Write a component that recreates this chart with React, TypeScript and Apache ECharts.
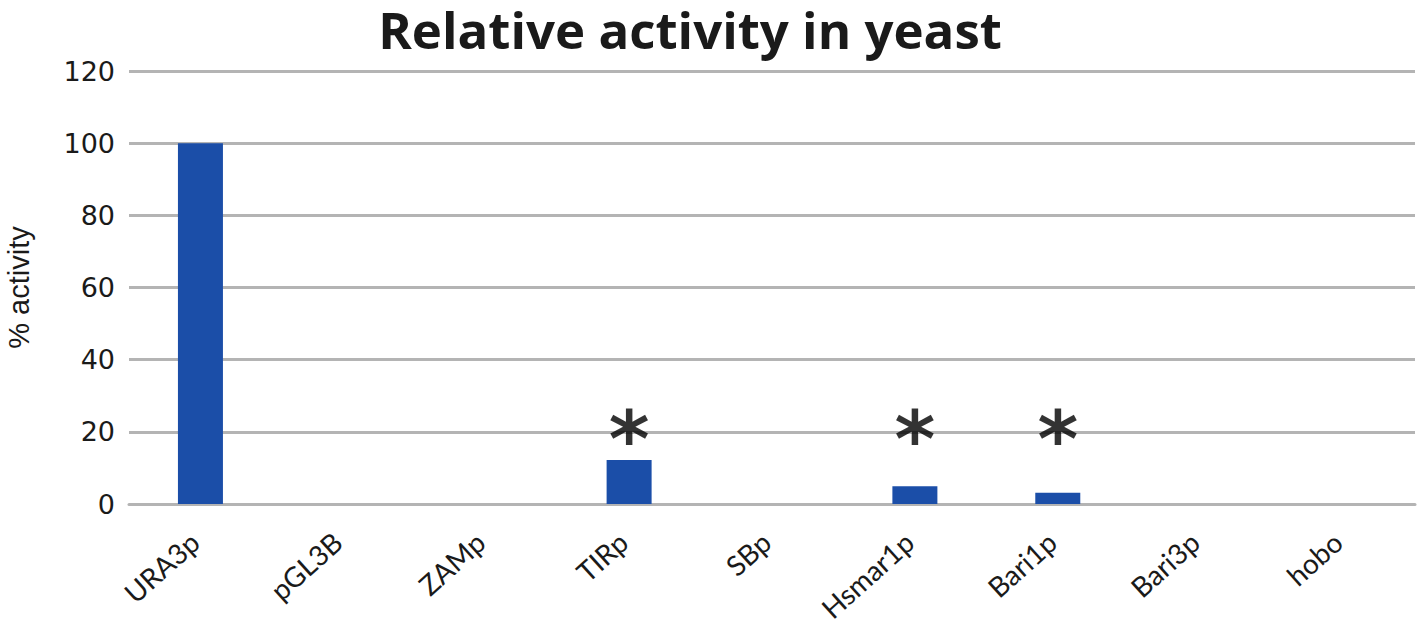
import React, { useEffect, useRef } from "react";
import * as echarts from "echarts";

const categories = ["URA3p", "pGL3B", "ZAMp", "TIRp", "SBp", "Hsmar1p", "Bari1p", "Bari3p", "hobo"];
const activity = [100, 0, 0, 12.2, 0, 4.9, 3.1, 0, 0];
const significanceMarks = [null, null, null, 22, null, 22, 22, null, null];

export default function App() {
  const ref = useRef<HTMLDivElement>(null);
  useEffect(() => {
    if (!ref.current) return;
    const chart = echarts.init(ref.current, undefined, { renderer: "svg" });
    chart.setOption({
      animation: false,
      backgroundColor: "#ffffff",
      title: {
        text: "Relative activity in yeast",
        left: 685,
        top: 2,
        textAlign: "center",
        textStyle: { fontFamily: "Open Sans", fontWeight: "bold", fontSize: 51, lineHeight: 44, color: "#1a1a1a" },
      },
      grid: { left: 129, right: 3, top: 71, bottom: 120, outerBoundsMode: "none" },
      xAxis: {
        type: "category",
        data: categories,
        axisTick: { show: false },
        axisLine: { lineStyle: { color: "#b4b4b4", width: 3 } },
        axisLabel: {
          rotate: 42,
          margin: 28,
          padding: [0, 8, 0, 0],
          fontFamily: "Lato",
          fontSize: 28,
          color: "#1a1a1a",
        },
      },
      yAxis: {
        type: "value",
        min: 0,
        max: 120,
        interval: 20,
        name: "% activity",
        nameLocation: "middle",
        nameRotate: 90,
        nameGap: 96,
        nameTextStyle: { fontFamily: "Liberation Sans", fontSize: 29, color: "#1a1a1a" },
        axisLine: { show: false },
        axisTick: { show: false },
        axisLabel: { margin: 14, fontFamily: "DejaVu Sans", fontSize: 27, color: "#1a1a1a" },
        splitLine: { lineStyle: { color: "#b4b4b4", width: 3 } },
      },
      series: [
        {
          type: "bar",
          data: activity,
          barWidth: 45,
          itemStyle: { color: "#1b4ea8" },
        },
        {
          type: "scatter",
          data: significanceMarks,
          symbolSize: 1,
          itemStyle: { color: "rgba(0,0,0,0)" },
          label: {
            show: true,
            position: "inside",
            formatter: "*",
            fontFamily: "DejaVu Sans",
            fontWeight: "bold",
            fontSize: 78,
            color: "#000000",
            offset: [0, 15],
          },
        },
      ],
    });
    return () => chart.dispose();
  }, []);
  return <div ref={ref} style={{ position: "fixed", left: 0, top: 0, width: 1418, height: 624 }} />;
}
